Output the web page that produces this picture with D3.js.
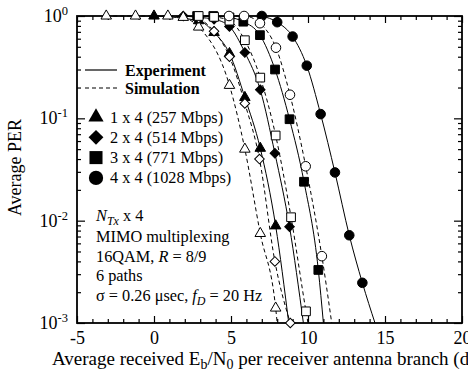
<!DOCTYPE html>
<html>
<head>
<meta charset="utf-8">
<script src="https://cdn.jsdelivr.net/npm/d3@7"></script>
<style>
  body { margin: 0; background: #fff; }
  svg { display: block; font-family: "Liberation Serif", "Times New Roman", serif; }
</style>
</head>
<body>
<svg id="chart"></svg>
<script>
// ---- data (Eb/N0 in dB, PER) ----
var seriesLabels = ["1 x 4 (257 Mbps)", "2 x 4 (514 Mbps)", "3 x 4 (771 Mbps)", "4 x 4 (1028 Mbps)"];

// experiment (solid lines, filled markers)
var exp1Db  = [0, 2.9, 3.9, 4.9, 5.9, 6.9, 7.9];
var exp1Per = [1, 0.90, 0.69, 0.43, 0.16, 0.051, 0.0089];
var exp1End = [8.75, 0.001];
var exp2Db  = [1.9, 2.9, 3.9, 4.9, 5.9, 6.9, 7.85, 8.8];
var exp2Per = [1, 0.97, 0.93, 0.79, 0.44, 0.19, 0.0455, 0.0087];
var exp2End = [9.7, 0.001];
var exp3Db  = [2.8, 3.85, 4.9, 5.8, 6.88, 7.86, 8.8, 9.74, 10.67];
var exp3Per = [1, 1, 0.97, 0.88, 0.65, 0.30, 0.098, 0.024, 0.0033];
var exp3End = [11.0, 0.001];
var exp4Db  = [7.0, 8.0, 9.0, 9.92, 10.82, 11.75, 12.68, 13.53];
var exp4Per = [1, 0.87, 0.63, 0.327, 0.110, 0.0296, 0.0072, 0.00247];
var exp4End = [14.35, 0.001];

// simulation (dashed lines, open markers)
var sim1Db  = [-3.1, -1.2, 0.9, 1.9, 2.9, 4.9, 5.9, 6.9, 7.9];
var sim1Per = [1, 1, 1, 0.97, 0.78, 0.21, 0.05, 0.0075, 0.0014];
var sim1End = [8.0, 0.001];
var sim2Db  = [2.9, 3.9, 4.9, 5.9, 6.85, 7.85, 8.85];
var sim2Per = [0.95, 0.71, 0.40, 0.14, 0.040, 0.0040, 0.0010];
var sim2End = [8.85, 0.001];
var sim3Db  = [2.9, 3.9, 4.9, 5.9, 6.9, 7.9, 8.9, 9.87];
var sim3Per = [1, 0.98, 0.9, 0.58, 0.25, 0.068, 0.0108, 0.0013];
var sim3End = [10.0, 0.001];
var sim4Db  = [4.87, 5.85, 6.88, 7.92, 8.83, 9.85, 10.9];
var sim4Per = [1, 1, 0.85, 0.49, 0.17, 0.034, 0.0045];
var sim4End = [11.54, 0.001];

var xTicks = [-5, 0, 5, 10, 15, 20];
var yExponents = [0, -1, -2, -3];

// ---- layout ----
var svgWidth = 468, svgHeight = 374;
var margin = { top: 16, right: 6, bottom: 51, left: 77 };
var x0 = margin.left, x1 = svgWidth - margin.right;
var y0 = margin.top, y1 = svgHeight - margin.bottom;

var svg = d3.select("#chart").attr("width", svgWidth).attr("height", svgHeight);

var x = d3.scaleLinear().domain([-5, 20]).range([x0, x1]);
var y = d3.scaleLog().domain([1e-3, 1]).range([y1, y0]);

var shapes = ["triangle", "diamond", "square", "circle"];
function pairs(db, per, end) {
  return db.map(function(d, i) { return [d, per[i]]; }).concat([end]);
}
var series = [
  { idx: 0, dashed: false, filled: true,  db: exp1Db, per: exp1Per, end: exp1End },
  { idx: 1, dashed: false, filled: true,  db: exp2Db, per: exp2Per, end: exp2End },
  { idx: 2, dashed: false, filled: true,  db: exp3Db, per: exp3Per, end: exp3End },
  { idx: 3, dashed: false, filled: true,  db: exp4Db, per: exp4Per, end: exp4End },
  { idx: 0, dashed: true,  filled: false, db: sim1Db, per: sim1Per, end: sim1End },
  { idx: 1, dashed: true,  filled: false, db: sim2Db, per: sim2Per, end: sim2End },
  { idx: 2, dashed: true,  filled: false, db: sim3Db, per: sim3Per, end: sim3End },
  { idx: 3, dashed: true,  filled: false, db: sim4Db, per: sim4Per, end: sim4End }
];

function symbolPath(shape, big) {
  var s = {
    triangle: big ? 100 : 48,
    diamond:  big ? 110 : 46,
    square:   big ? 170 : 76,
    circle:   big ? 160 : 72
  }[shape];
  var type = { triangle: d3.symbolTriangle, diamond: d3.symbolSquare,
               square: d3.symbolSquare, circle: d3.symbolCircle }[shape];
  return d3.symbol(type, s)();
}
function markerTransform(shape, px, py) {
  return "translate(" + px + "," + py + ")" + (shape === "diamond" ? " rotate(45)" : "");
}

// ---- axes (ticks inside, mirrored) ----
var tickW = 1.2;
var minorX = d3.range(-5, 21, 1).filter(function(d) { return d % 5 !== 0; });
var minorY = [];
[-3, -2, -1].forEach(function(e) {
  for (var m = 2; m <= 9; m++) minorY.push(m * Math.pow(10, e));
});
var majorY = yExponents.map(function(e) { return Math.pow(10, e); });

function styleAxis(g) {
  g.select(".domain").remove();
  g.selectAll("line").attr("stroke", "#000").attr("stroke-width", tickW);
}

svg.append("g").attr("transform", "translate(0," + y1 + ")")
  .call(d3.axisBottom(x).tickValues(minorX).tickSize(-4).tickFormat(""))
  .call(styleAxis);
svg.append("g").attr("transform", "translate(0," + y1 + ")")
  .call(d3.axisBottom(x).tickValues(xTicks).tickSize(-7).tickPadding(8.5)
    .tickFormat(function(d) { return String(d); }))
  .call(styleAxis)
  .selectAll("text").attr("font-size", 18).attr("font-family", "Liberation Serif").attr("fill", "#000");
svg.append("g").attr("transform", "translate(0," + y0 + ")")
  .call(d3.axisTop(x).tickValues(minorX).tickSize(-4).tickFormat(""))
  .call(styleAxis);
svg.append("g").attr("transform", "translate(0," + y0 + ")")
  .call(d3.axisTop(x).tickValues(xTicks).tickSize(-7).tickFormat(""))
  .call(styleAxis);

svg.append("g").attr("transform", "translate(" + x0 + ",0)")
  .call(d3.axisLeft(y).tickValues(minorY).tickSize(-4).tickFormat(""))
  .call(styleAxis);
svg.append("g").attr("transform", "translate(" + x0 + ",0)")
  .call(d3.axisLeft(y).tickValues(majorY).tickSize(-8).tickFormat(""))
  .call(styleAxis);
svg.append("g").attr("transform", "translate(" + x1 + ",0)")
  .call(d3.axisRight(y).tickValues(minorY).tickSize(-4).tickFormat(""))
  .call(styleAxis);
svg.append("g").attr("transform", "translate(" + x1 + ",0)")
  .call(d3.axisRight(y).tickValues(majorY).tickSize(-8).tickFormat(""))
  .call(styleAxis);

// y tick labels 10^n
yExponents.forEach(function(e) {
  var t = svg.append("text")
    .attr("x", x0 - 9).attr("y", y(Math.pow(10, e)) + 6)
    .attr("text-anchor", "end").attr("font-size", 18);
  t.append("tspan").text("10");
  t.append("tspan").attr("font-size", 12.5).attr("dy", -7).text(String(e));
});

// frame
svg.append("rect")
  .attr("x", x0).attr("y", y0).attr("width", x1 - x0).attr("height", y1 - y0)
  .attr("fill", "none").attr("stroke", "#000").attr("stroke-width", 1.8);

// ---- curves ----
var line = d3.line()
  .x(function(d) { return x(d[0]); })
  .y(function(d) { return y(d[1]); })
  .curve(d3.curveMonotoneX);

svg.append("g").selectAll("path")
  .data(series)
  .join("path")
  .attr("d", function(s) { return line(pairs(s.db, s.per, s.end)); })
  .attr("fill", "none")
  .attr("stroke", "#000")
  .attr("stroke-width", 1)
  .attr("stroke-dasharray", function(s) { return s.dashed ? "4,3" : null; });

// ---- markers ----
series.forEach(function(s) {
  var shape = shapes[s.idx];
  svg.append("g").selectAll("path")
    .data(s.db.map(function(d, i) { return [d, s.per[i]]; }))
    .join("path")
    .attr("d", symbolPath(shape, false))
    .attr("transform", function(d) { return markerTransform(shape, x(d[0]), y(d[1])); })
    .attr("fill", s.filled ? "#000" : "#fff")
    .attr("stroke", "#000")
    .attr("stroke-width", 1);
});

// ---- legend ----
var leg = svg.append("g");
[["Experiment", null, 70], ["Simulation", "4,3", 88]].forEach(function(r) {
  leg.append("line").attr("x1", 85).attr("x2", 117).attr("y1", r[2]).attr("y2", r[2])
    .attr("stroke", "#000").attr("stroke-width", 1.2).attr("stroke-dasharray", r[1]);
  leg.append("text").attr("x", 125).attr("y", r[2] + 5.5)
    .attr("font-size", 16).attr("font-weight", "bold").text(r[0]);
});
seriesLabels.forEach(function(lbl, i) {
  var cy = 117 + i * 20.3;
  leg.append("path").attr("d", symbolPath(shapes[i], true))
    .attr("transform", markerTransform(shapes[i], 96, cy)).attr("fill", "#000");
  leg.append("text").attr("x", 110).attr("y", cy + 5.5).attr("font-size", 16.3).text(lbl);
});

// ---- annotation ----
var ann = svg.append("g").attr("font-size", 16.3);
var a1 = ann.append("text").attr("x", 96).attr("y", 221);
a1.append("tspan").attr("font-style", "italic").text("N");
a1.append("tspan").attr("font-style", "italic").attr("font-size", 12).attr("dy", 3.5).text("Tx");
a1.append("tspan").attr("dy", -3.5).text(" x 4");
ann.append("text").attr("x", 96).attr("y", 242).text("MIMO multiplexing");
var a3 = ann.append("text").attr("x", 96).attr("y", 262);
a3.append("tspan").text("16QAM, ");
a3.append("tspan").attr("font-style", "italic").text("R");
a3.append("tspan").text(" = 8/9");
ann.append("text").attr("x", 96).attr("y", 281).text("6 paths");
var a5 = ann.append("text").attr("x", 96).attr("y", 301);
a5.append("tspan").text("\u03c3 = 0.26 \u03bcsec, ");
a5.append("tspan").attr("font-style", "italic").text("f");
a5.append("tspan").attr("font-style", "italic").attr("font-size", 12).attr("dy", 4).text("D");
a5.append("tspan").attr("dy", -4).text(" = 20 Hz");

// ---- axis titles ----
var xt = svg.append("text").attr("x", 52).attr("y", 365).attr("font-size", 19);
xt.append("tspan").text("Average received E");
xt.append("tspan").attr("font-size", 14).attr("dy", 4).text("b");
xt.append("tspan").attr("dy", -4).text("/N");
xt.append("tspan").attr("font-size", 14).attr("dy", 4).text("0");
xt.append("tspan").attr("dy", -4).text(" per receiver antenna branch (dB)");

svg.append("text")
  .attr("transform", "translate(21," + ((y0 + y1) / 2 - 2) + ") rotate(-90)")
  .attr("text-anchor", "middle").attr("font-size", 18)
  .text("Average PER");
</script>
</body>
</html>
